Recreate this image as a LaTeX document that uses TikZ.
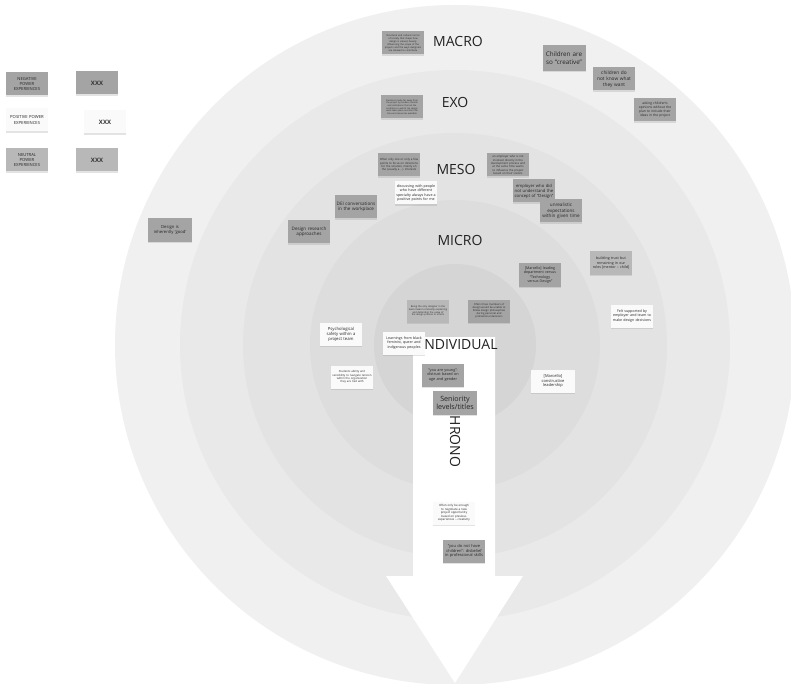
\documentclass[tikz,border=0pt]{standalone}
\usepackage{fontspec}
\setmainfont{Open Sans}
\usetikzlibrary{shadows}
\definecolor{ringA}{HTML}{F0F0F0}
\definecolor{ringB}{HTML}{E9E9E9}
\definecolor{ringC}{HTML}{E3E3E3}
\definecolor{ringD}{HTML}{DDDDDD}
\definecolor{ringE}{HTML}{D5D5D5}
\definecolor{negfill}{HTML}{A4A4A4}
\definecolor{neufill}{HTML}{B8B8B8}
\definecolor{posfill}{HTML}{FAFAFA}
\definecolor{labeltext}{HTML}{222222}
\begin{document}
\hyphenpenalty=10000
\exhyphenpenalty=10000
\begin{tikzpicture}[x=1pt,y=-1pt,
  level/.style={font=\fontsize{14}{14}\selectfont, text=labeltext, inner sep=0pt},
  note/.style={minimum width=42pt, minimum height=23pt, text width=40pt, inner sep=0.5pt,
    align=center, text=black!85, font=\fontsize{4.6}{5.6}\selectfont,
    drop shadow={shadow xshift=0pt, shadow yshift=-1.3pt, opacity=0.22}},
  negnote/.style={note, fill=negfill},
  posnote/.style={note, fill=posfill},
  neunote/.style={note, fill=neufill},
  fs/.code={\pgfmathsetmacro\notelh{1.2*#1}\pgfkeysalso{font={\fontsize{#1}{\notelh}\selectfont}}},
  keytag/.style={font=\fontsize{6}{7}\selectfont\bfseries, text=black!80},
]
\useasboundingbox (0,0) rectangle (791,684);
\fill[white] (0,0) rectangle (791,684);

% nested system levels
\coordinate (c) at (455,345);
\fill[ringA] (c) circle[radius=340pt];
\fill[ringB] (c) circle[radius=275pt];
\fill[ringC] (c) circle[radius=212pt];
\fill[ringD] (c) circle[radius=145pt];
\fill[ringE] (c) circle[radius=81pt];

% time axis
\fill[white] (413,337) -- (495,337) -- (495,576) -- (523,576) -- (455,683)
  -- (386,576) -- (413,576) -- cycle;

% level names
\node[level] (macro) at (458,41) {MACRO};
\node[level] (exo) at (455,102) {EXO};
\node[level] (meso) at (456,169) {MESO};
\node[level] (micro) at (460,240) {MICRO};
\node[level] (indiv) at (459,345) {INDIVIDUAL};
\node[level, rotate=-90] (chrono) at (455,437) {CHRONO};

% legend
\node[negnote, fs=4.2] (legneg) at (27,84) {NEGATIVE\\POWER\\EXPERIENCES};
\node[negnote, keytag] (legnegx) at (97,83) {XXX};
\node[posnote, fs=4.2] (legpos) at (27,120) {POSITIVE POWER\\EXPERIENCES};
\node[posnote, keytag] (legposx) at (105,122) {XXX};
\node[neunote, fs=4.2] (legneu) at (27,160) {NEUTRAL\\POWER\\EXPERIENCES};
\node[neunote, keytag] (legneux) at (97,160) {XXX};

% macro
\node[negnote, fs=2.4] (m1) at (403,43) {Structural and cultural norms of society that shape how design is valued, heavily influencing the scope of the projects and the ways designers are allowed to contribute};
\node[negnote, fs=6.3, minimum width=43pt, minimum height=26pt] (m2) at (564,58) {Children are so ``creative''};
\node[negnote, fs=4.8] (m3) at (614,79) {children do not know what they want};
\node[negnote, fs=3.3] (m4) at (655,110) {asking children's opinions without the plan to include their ideas in the project};

% exo
\node[negnote, fs=2.2] (e1) at (402,107) {Decisions made far away from the project by funders, boards and institutions that set the conditions in which the design work takes place and limit the time and resources available};

% meso
\node[negnote, fs=2.8] (s1) at (399,165) {Often only one or only a few points to focus on directions for the solution, mainly on the (usually a ...) interests};
\node[posnote, fs=3.6] (s2) at (416,193) {discussing with people who have different specialty always have a positive points for me};
\node[negnote, fs=2.8] (s3) at (508,165) {an employer who is not involved directly in the development process and at the same time wants to influence the project based on their visions};
\node[negnote, fs=4.2] (s4) at (534,191) {employer who did not understand the concept of ``Design''};
\node[negnote, fs=4.6] (s5) at (561,211) {unrealistic expectations within given time};
\node[negnote, fs=4.6] (s6) at (356,207) {DEI conversations in the workplace};
\node[negnote, fs=4.6] (s7) at (309,232) {Design research approaches};
\node[negnote, fs=4.2, minimum width=44pt, minimum height=24pt] (s8) at (170,230) {Design is inherently `good'};

% micro
\node[negnote, fs=3.6] (r1) at (540,275) {[Marcello] leading department versus ``Technology versus Design''};
\node[neunote, fs=3.6] (r2) at (611,263) {building trust but remaining in our roles [mentor -- child]};
\node[posnote, fs=3.6] (r3) at (632,316) {Felt supported by employer and team to make design decisions};

% individual
\node[neunote, fs=2.4] (i1) at (428,311) {Being the only designer in the team meant constantly explaining and defending the value of the design process to others};
\node[negnote, fs=2.6] (i2) at (489,311) {Often times members of design would be unable to follow design philosophies during personal and professional decisions};
\node[posnote, fs=4.2] (i3) at (341,334) {Psychological safety within a project team};
\node[posnote, fs=3.6] (i4) at (404,343) {Learnings from black feminist, queer and indigenous peoples};
\node[posnote, fs=2.8] (i5) at (352,377) {Students ability and sensibility to navigate tension within the organization they are tied with};
\node[negnote, fs=3.8] (i6) at (443,375) {``you are young'': distrust based on age and gender};
\node[negnote, fs=7.2, minimum width=43pt, minimum height=24pt, text width=43pt] (i7) at (455,403) {Seniority levels/titles};
\node[posnote, fs=4, minimum width=44pt] (i8) at (553,381) {[Marcello] constructive leadership};

% chrono
\node[posnote, fs=2.9] (t1) at (454,513) {Often only be enough to negotiate a new project opportunity based on previous experiences -- creativity};
\node[negnote, fs=4] (t2) at (464,551) {``you do not have children'': disbelief in professional skills};
\end{tikzpicture}
\end{document}
